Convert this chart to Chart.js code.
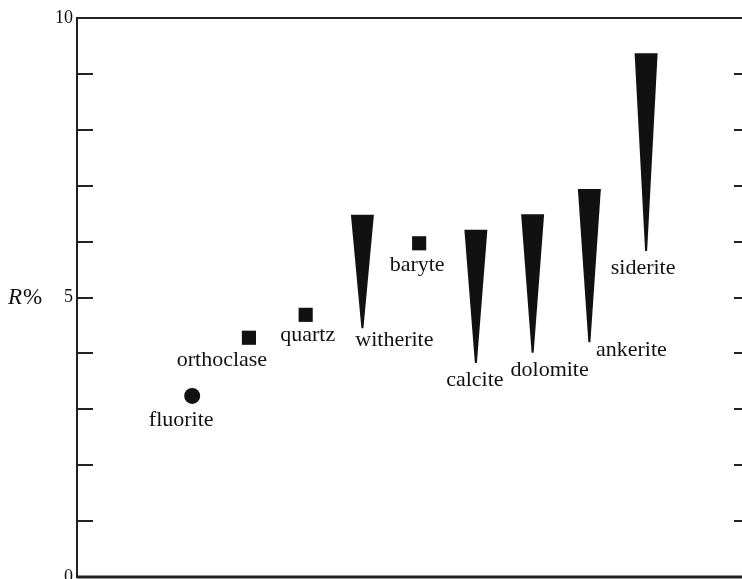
<!DOCTYPE html>
<html>
<head>
<meta charset="utf-8">
<script src="https://cdn.jsdelivr.net/npm/chart.js@4/dist/chart.umd.min.js"></script>
<style>
    html, body { margin: 0; padding: 0; background: #fff; }
    #wrap { width: 742px; height: 579px; }
</style>
</head>
<body>
<div id="wrap"><canvas id="reflectance"></canvas></div>
<script>
// R% of minerals (single value = dot/square, range = wedge)
const circleNames = ['fluorite']
const circleX = [1]
const circleR = [3.24]

const squareNames = ['orthoclase', 'quartz', 'baryte']
const squareX = [2, 3, 5]
const squareR = [4.28, 4.69, 5.97]

const wedgeNames = ['witherite', 'calcite', 'dolomite', 'ankerite', 'siderite']
const wedgeX = [4, 6, 7, 8, 9]
const wedgeLow = [4.45, 3.83, 4.01, 4.20, 5.83]
const wedgeHigh = [6.48, 6.21, 6.49, 6.94, 9.37]

const yLabelled = [0, 5, 10]

// where each name sits relative to its mark (px)
const labelOffset = {
    fluorite: [-11, 24],
    orthoclase: [-27, 22],
    quartz: [2, 20],
    baryte: [-2, 22],
    witherite: [32, 12],
    calcite: [-1, 17],
    dolomite: [17, 17],
    ankerite: [42, 8],
    siderite: [-3, 17],
}

const serif = '"Liberation Serif", "DejaVu Serif", serif'
const ink = '#111'

const wedgePlugin = {
    id: 'wedges',
    afterDatasetsDraw(chart) {
        const ctx = chart.ctx
        const meta = chart.getDatasetMeta(0)
        ctx.save()
        ctx.fillStyle = ink
        meta.data.forEach(bar => {
            const top = Math.min(bar.y, bar.base)
            const tip = Math.max(bar.y, bar.base)
            const half = bar.width / 2
            ctx.beginPath()
            ctx.moveTo(bar.x - half, top)
            ctx.lineTo(bar.x + half, top)
            ctx.lineTo(bar.x + 1, tip)
            ctx.lineTo(bar.x - 1, tip)
            ctx.closePath()
            ctx.fill()
        })
        ctx.restore()
    }
}

const namePlugin = {
    id: 'names',
    afterDatasetsDraw(chart) {
        const ctx = chart.ctx
        ctx.save()
        ctx.fillStyle = ink
        ctx.font = '22px ' + serif
        ctx.textAlign = 'center'
        ctx.textBaseline = 'middle'
        chart.data.datasets.forEach((ds, di) => {
            const meta = chart.getDatasetMeta(di)
            meta.data.forEach((el, i) => {
                const name = ds.names[i]
                const off = labelOffset[name]
                const ay = ds.type === 'bar' ? Math.max(el.y, el.base) : el.y
                ctx.fillText(name, el.x + off[0], ay + off[1])
            })
        })
        ctx.restore()
    }
}

const framePlugin = {
    id: 'frame',
    afterDraw(chart) {
        const ctx = chart.ctx
        const area = chart.chartArea
        const y = chart.scales.y
        ctx.save()
        ctx.strokeStyle = '#222'
        ctx.lineWidth = 2
        ctx.beginPath()
        ctx.moveTo(area.left, area.top)
        ctx.lineTo(area.right, area.top)
        ctx.stroke()
        ctx.lineWidth = 3
        ctx.beginPath()
        ctx.moveTo(area.left, area.bottom)
        ctx.lineTo(area.right, area.bottom)
        ctx.stroke()
        // inward ticks on both sides
        ctx.lineWidth = 2
        y.ticks.forEach(t => {
            if (t.value <= y.min || t.value >= y.max) return
            const py = Math.round(y.getPixelForValue(t.value))
            ctx.beginPath()
            ctx.moveTo(area.left, py)
            ctx.lineTo(area.left + 16, py)
            ctx.moveTo(area.right - 8, py)
            ctx.lineTo(area.right, py)
            ctx.stroke()
        })
        // axis name
        const my = y.getPixelForValue(5)
        ctx.fillStyle = ink
        ctx.textBaseline = 'middle'
        ctx.textAlign = 'left'
        ctx.font = 'italic 23px ' + serif
        ctx.fillText('R', 8, my)
        const rw = ctx.measureText('R').width
        ctx.font = '23px ' + serif
        ctx.fillText('%', 8 + rw + 1, my)
        ctx.restore()
    }
}

const reflectanceData = {
    datasets: [
        {
            type: 'bar',
            names: wedgeNames,
            data: wedgeX.map((x, i) => ({ x: x, y: [wedgeLow[i], wedgeHigh[i]] })),
            backgroundColor: 'rgba(0, 0, 0, 0)',
            borderWidth: 0,
            barThickness: 23,
        },
        {
            type: 'scatter',
            names: circleNames,
            data: circleX.map((x, i) => ({ x: x, y: circleR[i] })),
            pointStyle: 'circle',
            pointRadius: 8,
            backgroundColor: ink,
            borderWidth: 0,
        },
        {
            type: 'scatter',
            names: squareNames,
            data: squareX.map((x, i) => ({ x: x, y: squareR[i] })),
            pointStyle: 'rect',
            pointRadius: 10,
            backgroundColor: ink,
            borderWidth: 0,
        },
    ]
}

const reflectanceConfig = {
    type: 'bar',
    data: reflectanceData,
    plugins: [wedgePlugin, namePlugin, framePlugin],
    options: {
        responsive: true,
        maintainAspectRatio: false,
        animation: false,
        layout: { autoPadding: false, padding: { top: 18, right: 0, bottom: 2, left: 0 } },
        plugins: {
            legend: { display: false },
            tooltip: { enabled: false },
        },
        scales: {
            x: {
                type: 'linear',
                min: -1.03,
                max: 10.69,
                offset: false,
                display: false,
            },
            y: {
                min: 0,
                max: 10,
                beginAtZero: true,
                grid: { display: false },
                border: { display: true, color: '#222', width: 2 },
                ticks: {
                    stepSize: 1,
                    padding: -4,
                    color: ink,
                    font: { family: serif, size: 18 },
                    callback: v => yLabelled.includes(v) ? String(v) : '',
                },
                afterFit(scale) {
                    scale.width = 77
                    scale.paddingTop = 0
                    scale.paddingBottom = 0
                },
            },
        },
    }
}

const ctx = document.getElementById('reflectance')
const reflectanceChart = new Chart(ctx, reflectanceConfig)
</script>
</body>
</html>
